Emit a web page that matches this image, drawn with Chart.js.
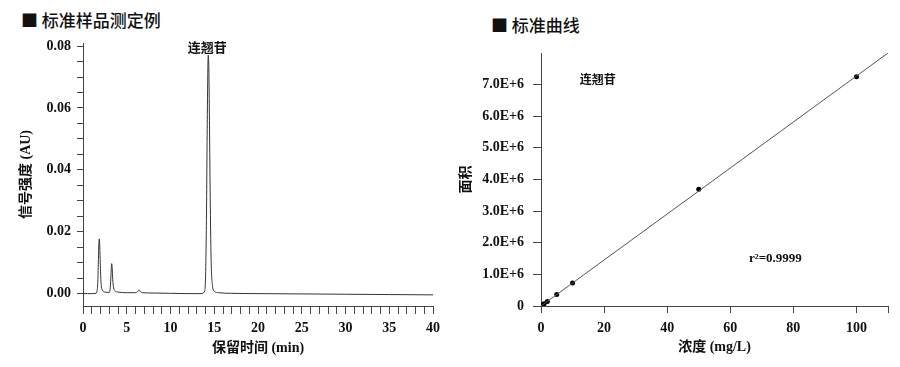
<!DOCTYPE html>
<html>
<head>
<meta charset="utf-8">
<script src="https://cdn.jsdelivr.net/npm/chart.js@4.4.1/dist/chart.umd.min.js"></script>
<style>
  body { margin: 0; background: #fff; width: 900px; height: 367px; position: relative; overflow: hidden; }
  canvas { position: absolute; top: 0; }
  .head { position: absolute; font-family: "Noto Sans CJK SC", sans-serif; font-size: 17px; font-weight: 500; color: #111; line-height: 20px; }
</style>
</head>
<body>
<div class="head" style="left:21px; top:10px;">■ 标准样品测定例</div>
<div class="head" style="left:491px; top:15px;">■ 标准曲线</div>
<canvas id="chrom" width="450" height="367" style="left:0"></canvas>
<canvas id="curve" width="450" height="367" style="left:450px"></canvas>
<script>
// chromatogram (min, AU)
const chromTime = [0, 0.5, 1.0, 1.5, 1.6, 1.7, 1.76, 1.82, 1.86, 1.9, 1.96, 2.05, 2.2, 2.5,
  3.0, 3.1, 3.18, 3.24, 3.28, 3.33, 3.4, 3.5, 3.7, 4.0, 5.0, 6.0, 6.25, 6.4, 6.55, 6.8,
  8, 10, 12, 13.5, 13.9, 14.0, 14.1, 14.2, 14.28, 14.32, 14.38, 14.45, 14.55, 14.65, 14.8,
  15.0, 15.5, 17, 20, 25, 30, 35, 40];
const chromSignal = [0, 0, 0, 0.0001, 0.0008, 0.0045, 0.011, 0.0165, 0.0177, 0.0165, 0.011, 0.004, 0.0012, 0.0005,
  0.0004, 0.0015, 0.005, 0.0085, 0.0097, 0.0085, 0.0045, 0.0018, 0.0008, 0.0005, 0.0003, 0.0003, 0.0007, 0.0012, 0.0007, 0.0003,
  0.0002, 0.0001, 0, 0, 0.0008, 0.005, 0.022, 0.055, 0.0745, 0.0771, 0.073, 0.056, 0.028, 0.01, 0.0025,
  0.0008, 0.0003, 0.0001, 0, -0.0001, -0.0002, -0.0003, -0.0004];
const peakName = "连翘苷";
const peakTime = 14.32;
const peakHeight = 0.0771;
const chromXLabels = [0, 5, 10, 15, 20, 25, 30, 35, 40];
const chromYLabels = [0, 0.02, 0.04, 0.06, 0.08];

// standard curve
const conc = [0.2, 0.5, 1, 2, 5, 10, 50, 100];
const area = [0.0145e6, 0.036e6, 0.072e6, 0.145e6, 0.365e6, 0.73e6, 3.69e6, 7.25e6];
const fitConc = [0, 110];
const fitArea = [0, 8.0e6];
const concTicks = [0, 20, 40, 60, 80, 100, 110];
const areaTicks = [0, 1e6, 2e6, 3e6, 4e6, 5e6, 6e6, 7e6];
const r2Text = "r²=0.9999";

const axisColor = "#444";
const tickFont = { family: "'Liberation Serif', 'Noto Sans CJK SC', serif", size: 14, weight: "bold" };
const titleFont = { family: "'Liberation Serif', 'Noto Sans CJK SC', serif", size: 14, weight: "bold" };

function axisGrid(len) {
  return { drawOnChartArea: false, drawTicks: true, tickLength: len, color: axisColor, lineWidth: 1 };
}

const chromNote = {
  id: "chromNote",
  afterDraw(chart) {
    const { ctx, scales } = chart;
    ctx.save();
    ctx.font = "bold 13px 'Noto Sans CJK SC'";
    ctx.fillStyle = "#111";
    ctx.textAlign = "center";
    ctx.textBaseline = "middle";
    ctx.fillText(peakName, scales.x.getPixelForValue(peakTime) - 1, scales.y.getPixelForValue(peakHeight) - 8);
    ctx.restore();
  }
};

new Chart(document.getElementById("chrom"), {
  type: "line",
  data: {
    datasets: [{
      data: chromTime.map((t, i) => ({ x: t, y: chromSignal[i] })),
      borderColor: "#333",
      borderWidth: 1,
      pointRadius: 0,
      cubicInterpolationMode: "monotone",
      fill: false
    }]
  },
  options: {
    responsive: false,
    animation: false,
    devicePixelRatio: 1,
    layout: { padding: { left: 0, right: 17, top: 43, bottom: 0 } },
    plugins: { legend: { display: false }, tooltip: { enabled: false } },
    scales: {
      x: {
        type: "linear",
        min: 0,
        max: 40,
        afterBuildTicks(s) {
          const t = [];
          for (let v = 0; v <= 40; v++) t.push({ value: v });
          s.ticks = t;
        },
        afterFit(s) { s.height = 61; },
        grid: axisGrid(8),
        border: { color: axisColor, width: 1 },
        ticks: {
          autoSkip: false,
          maxRotation: 0,
          padding: 6,
          color: "#111",
          font: tickFont,
          callback: v => chromXLabels.includes(v) ? String(v) : ""
        },
        title: { display: true, text: "保留时间 (min)", color: "#111", font: titleFont, padding: { top: 0, bottom: 10 } }
      },
      y: {
        min: -0.004,
        max: 0.081,
        afterBuildTicks(s) {
          const t = [];
          for (let k = 0; k <= 16; k++) t.push({ value: k * 0.005 });
          s.ticks = t;
        },
        afterFit(s) { s.width = 83; },
        grid: axisGrid(6),
        border: { color: axisColor, width: 1 },
        ticks: {
          autoSkip: false,
          padding: 6,
          color: "#111",
          font: tickFont,
          callback: v => {
            const hit = chromYLabels.find(l => Math.abs(l - v) < 1e-9);
            return hit === undefined ? "" : hit.toFixed(2);
          }
        },
        title: { display: true, text: "信号强度 (AU)", color: "#111", font: titleFont, padding: { top: 18, bottom: 0 } }
      }
    }
  },
  plugins: [chromNote]
});

const curveNote = {
  id: "curveNote",
  afterDraw(chart) {
    const { ctx, scales } = chart;
    ctx.save();
    ctx.fillStyle = "#111";
    ctx.textAlign = "center";
    ctx.textBaseline = "middle";
    ctx.font = "bold 12px 'Noto Sans CJK SC'";
    ctx.fillText(peakName, scales.x.getPixelForValue(18), scales.y.getPixelForValue(7.15e6));
    ctx.font = "bold 13px 'Liberation Serif'";
    ctx.fillText(r2Text, scales.x.getPixelForValue(74.3), scales.y.getPixelForValue(1.5e6));
    ctx.restore();
  }
};

new Chart(document.getElementById("curve"), {
  type: "scatter",
  data: {
    datasets: [
      {
        data: fitConc.map((c, i) => ({ x: c, y: fitArea[i] })),
        showLine: true,
        borderColor: "#555",
        borderWidth: 1,
        pointRadius: 0
      },
      {
        data: conc.map((c, i) => ({ x: c, y: area[i] })),
        backgroundColor: "#000",
        borderColor: "#000",
        pointRadius: 2.5,
        pointBorderWidth: 0
      }
    ]
  },
  options: {
    responsive: false,
    animation: false,
    devicePixelRatio: 1,
    layout: { padding: { left: 0, right: 12, top: 53, bottom: 0 } },
    plugins: { legend: { display: false }, tooltip: { enabled: false } },
    scales: {
      x: {
        type: "linear",
        min: 0,
        max: 110,
        afterBuildTicks(s) { s.ticks = concTicks.map(v => ({ value: v })); },
        afterFit(s) { s.height = 61; },
        grid: axisGrid(7),
        border: { color: axisColor, width: 1 },
        ticks: {
          autoSkip: false,
          maxRotation: 0,
          padding: 7,
          color: "#111",
          font: tickFont,
          callback: v => v === 110 ? "" : String(v)
        },
        title: { display: true, text: "浓度 (mg/L)", color: "#111", font: titleFont, padding: { top: 0, bottom: 11 } }
      },
      y: {
        min: 0,
        max: 8.0e6,
        afterBuildTicks(s) { s.ticks = areaTicks.map(v => ({ value: v })); },
        afterFit(s) { s.width = 91; },
        grid: axisGrid(8),
        border: { color: axisColor, width: 1 },
        ticks: {
          autoSkip: false,
          padding: 9,
          color: "#111",
          font: tickFont,
          callback: v => v === 0 ? "0" : (v / 1e6).toFixed(1) + "E+6"
        },
        title: { display: true, text: "面积", color: "#111", font: titleFont, padding: { top: 8, bottom: 0 } }
      }
    }
  },
  plugins: [curveNote]
});
</script>
</body>
</html>
